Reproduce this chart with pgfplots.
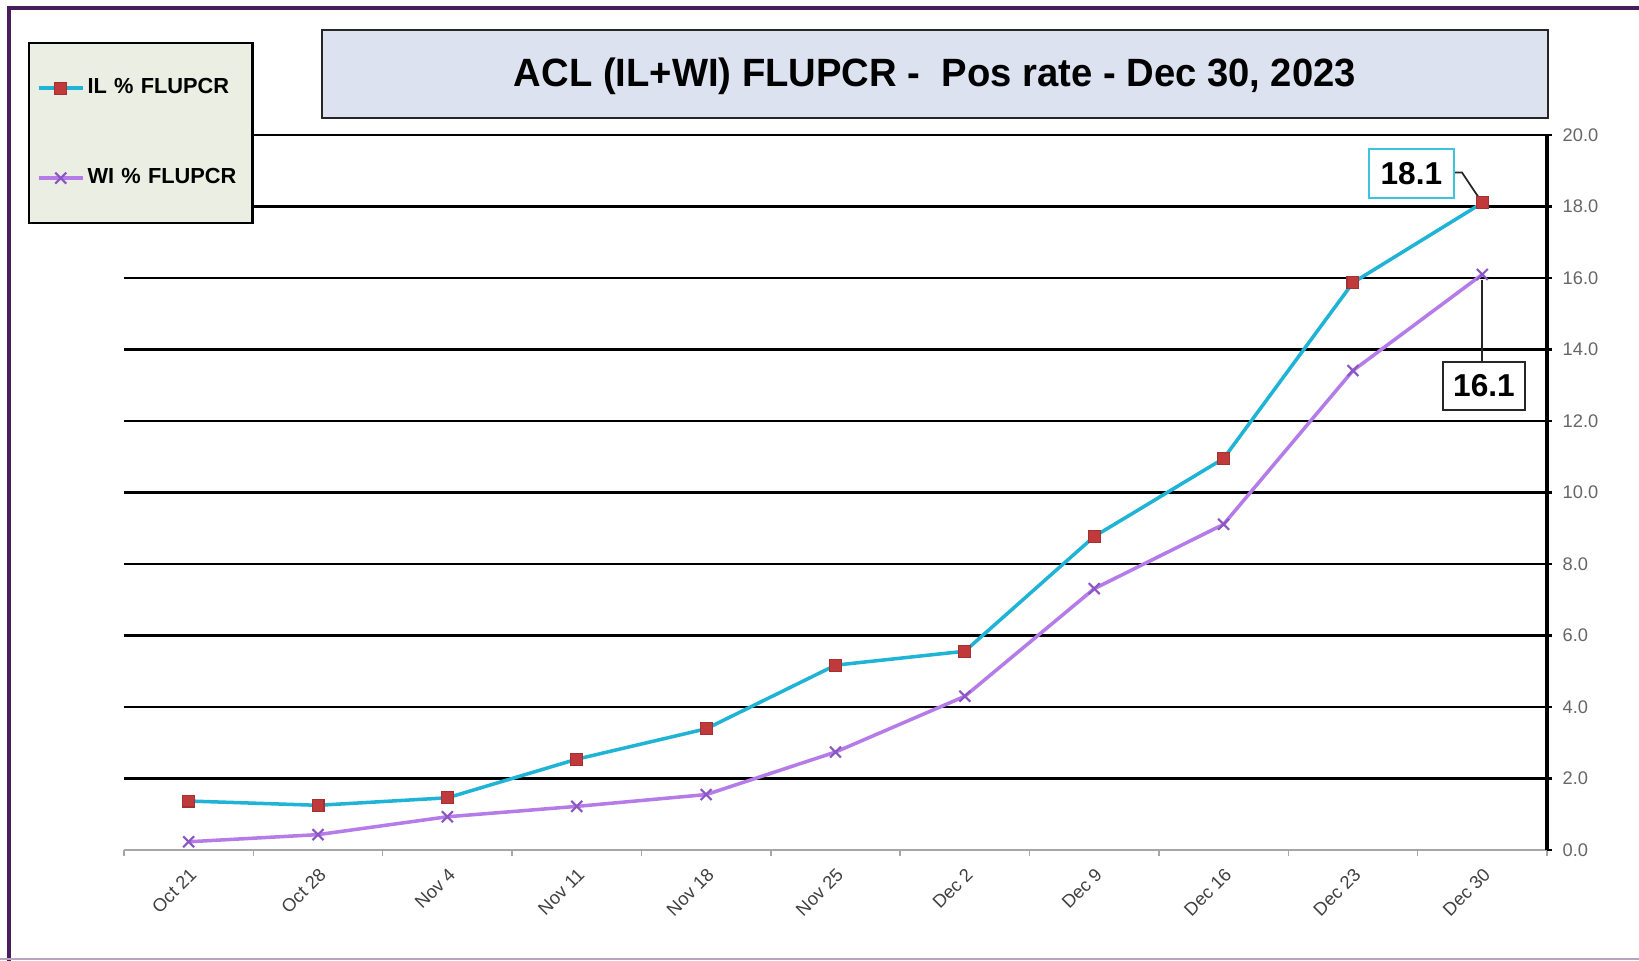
\documentclass[border=0pt]{standalone}
\usepackage{fontspec}
\setmainfont{Liberation Sans}
\usepackage{pgfplots}
\usepackage{pgfplotstable}
\pgfplotsset{compat=1.18}
\definecolor{illine}{HTML}{1FB3D6}
\definecolor{ilmark}{HTML}{C0393B}
\definecolor{wiline}{HTML}{B57BE8}
\definecolor{wimark}{HTML}{8A55C4}
\definecolor{framepurple}{HTML}{4A1C5C}
\definecolor{titlefill}{HTML}{DCE2F0}
\definecolor{legfill}{HTML}{EBEEE2}
\definecolor{anncyan}{HTML}{3CC4DE}

\pgfplotstableread{
x y
0 1.37
1 1.25
2 1.46
3 2.54
4 3.39
5 5.17
6 5.56
7 8.77
8 10.95
9 15.87
10 18.1
}\ILdata
\pgfplotstableread{
x y
0 0.23
1 0.43
2 0.93
3 1.22
4 1.55
5 2.74
6 4.30
7 7.31
8 9.11
9 13.41
10 16.1
}\WIdata

\begin{document}
\begin{tikzpicture}
\useasboundingbox (0,0) rectangle (163.9mm,96.1mm);
\fill[white] (0,0) rectangle (163.9mm,96.1mm);
\begin{scope}[x=0.1mm,y=-0.1mm,yshift=96.1mm]
 \draw[framepurple, line width=1.3pt] (9,961) -- (9,8) -- (1639,8);
 \draw[framepurple!40, line width=0.6pt] (0,959) -- (1639,959);
 \draw[black!85, line width=0.7pt, fill=titlefill] (322,30) rectangle (1548,118);
 \node[anchor=base, inner sep=0pt] at (935,87) {\resizebox{84.2mm}{2.86mm}{\bfseries ACL (IL+WI) FLUPCR -\ \ Pos rate - Dec 30, 2023}};
\end{scope}

\begin{axis}[
 at={(12.4mm,11.1mm)}, anchor=south west, scale only axis,
 width=142.3mm, height=71.5mm,
 xmin=-0.5, xmax=10.5, ymin=0, ymax=20,
 clip=false,
 axis x line*=bottom, axis y line*=right,
 x axis line style={draw=gray!70, line width=0.4pt},
 y axis line style={draw=black, line width=1.1pt},
 xtick={0,...,10},
 xticklabels={Oct 21,Oct 28,Nov 4,Nov 11,Nov 18,Nov 25,Dec 2,Dec 9,Dec 16,Dec 23,Dec 30},
 minor xtick={-0.5,0.5,...,10.5},
 major x tick style={draw=none},
 minor x tick style={draw=gray!70, line width=0.4pt},
 ytick={2,4,...,20},
 extra y ticks={0}, extra y tick style={grid=none},
 ymajorgrids, grid style={black, line width=0.6pt},
 major y tick style={black, line width=0.8pt},
 tick align=outside,
 major tick length=0.5mm, minor tick length=0.6mm,
 /pgf/number format/fixed, /pgf/number format/fixed zerofill,
 /pgf/number format/precision=1, /pgf/number format/assume math mode=true,
 yticklabel style={font=\fontsize{5.2pt}{6pt}\selectfont, text=black!60, anchor=west, inner sep=0pt, xshift=1.0mm},
 xticklabel style={font=\fontsize{5.2pt}{6pt}\selectfont, text=black!75, rotate=45, anchor=east, inner sep=0pt, yshift=-1.5mm, xshift=-0.8mm},
 legend image code/.code={\draw[mark repeat=2,mark phase=2,#1] plot coordinates {(0mm,0mm) (2.2mm,0mm) (4.4mm,0mm)};},
 legend style={at={(axis description cs:-0.0675,1.13)}, anchor=north west, draw=black, line width=0.6pt, fill=legfill, inner xsep=0.8mm, inner ysep=0pt, row sep=0pt, column sep=0.3mm, font=\bfseries\fontsize{6.2pt}{7pt}\selectfont, nodes={minimum height=9mm, text width=15.7mm, align=left, inner sep=0pt}},
 legend cell align=left,
]
\addplot[illine, line width=1pt, mark=square*, mark size=1.7pt, mark options={fill=ilmark, draw=ilmark!85!black, line width=0.3pt, solid}] table[x=x,y=y] {\ILdata};
\addlegendentry{IL \% FLUPCR}
\addplot[wiline, line width=1pt, mark=x, mark size=2.2pt, mark options={draw=wimark, line width=0.6pt, solid}] table[x=x,y=y] {\WIdata};
\addlegendentry{WI \% FLUPCR}

\draw[black!85, line width=0.5pt] (axis cs:9.781,18.95) -- (axis cs:9.843,18.95) -- (axis cs:10,18.1);
\node[draw=anncyan, line width=0.6pt, fill=white, minimum width=8.5mm, minimum height=4.9mm, inner sep=0pt, font=\bfseries\fontsize{9pt}{10pt}\selectfont] at (axis cs:9.452,18.93) {18.1};
\draw[black!85, line width=0.5pt] (axis cs:10,13.66) -- (axis cs:10,15.95);
\node[draw=black!85, line width=0.6pt, fill=white, minimum width=8.2mm, minimum height=4.8mm, inner sep=0pt, font=\bfseries\fontsize{9pt}{10pt}\selectfont] at (axis cs:10.013,12.99) {16.1};
\end{axis}
\end{tikzpicture}
\end{document}
